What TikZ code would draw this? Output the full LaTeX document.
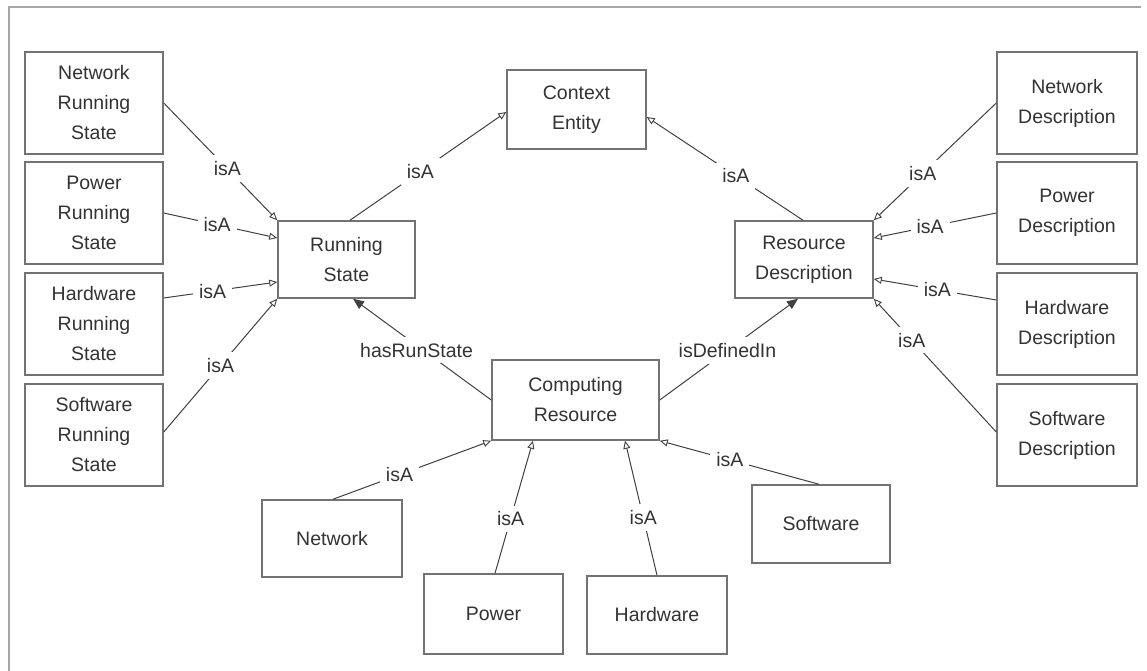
\documentclass[tikz,border=0pt]{standalone}
\usepackage{fontspec}
\setmainfont{Liberation Sans}
\usetikzlibrary{arrows.meta}
\tikzset{
  box/.style={draw=black!55, line width=1.5bp, fill=white, align=center,
    text=black!80, font=\fontsize{19.5bp}{30bp}\selectfont, inner sep=0pt},
  tall/.style={box, minimum width=138bp, minimum height=102bp},
  low/.style={box, minimum width=138bp, minimum height=78bp},
  rel/.style={draw=black!75, line width=1bp},
  isa/.style={rel, -{Triangle[open, length=8bp, width=7bp, line width=0.9bp]}},
  has/.style={rel, -{Triangle[length=11bp, width=9bp]}},
  lbl/.style={fill=white, text=black!80, inner sep=6bp,
    font=\fontsize{19.5bp}{24bp}\selectfont}
}
\begin{document}
\begin{tikzpicture}[x=1bp, y=-1bp]
\useasboundingbox (0,0) rectangle (1147,671);
% frame
\draw[black!35, line width=2bp] (9,671) -- (9,7) -- (1141,7);

% running states (left column)
\node[tall] (nrs) at (94,103) {Network\\Running\\State};
\node[tall] (prs) at (94,213) {Power\\Running\\State};
\node[tall] (hrs) at (94,324) {Hardware\\Running\\State};
\node[tall] (srs) at (94,435) {Software\\Running\\State};

% descriptions (right column)
\node[tall, minimum width=140bp] (nd) at (1067,103) {Network\\Description};
\node[tall, minimum width=140bp] (pd) at (1067,213) {Power\\Description};
\node[tall, minimum width=140bp] (hd) at (1067,324) {Hardware\\Description};
\node[tall, minimum width=140bp] (sd) at (1067,435) {Software\\Description};

% central concepts
\node[low, minimum width=137bp, minimum height=77bp] (rs) at (346.5,259.5) {Running\\State};
\node[low, minimum width=139bp, minimum height=79bp] (ce) at (576.5,109.5) {Context\\Entity};
\node[low, minimum height=77bp] (rd) at (804,259.5) {Resource\\Description};
\node[low, minimum width=167bp, minimum height=80bp] (cr) at (575.5,400) {Computing\\Resource};

% resource kinds (bottom)
\node[low, minimum width=140bp, minimum height=77bp] (net) at (332,538.5) {Network};
\node[low, minimum width=139bp, minimum height=80bp] (pow) at (493.5,614) {Power};
\node[low, minimum width=140bp] (hw) at (657,615) {Hardware};
\node[low] (sw) at (821,524) {Software};

% isA links to Running State
\draw[isa] (nrs.east) -- node[lbl, pos=0.56] {isA} (rs.north west);
\draw[isa] (prs.east) -- node[lbl, pos=0.47] {isA} ([yshift=21.5bp]rs.west);
\draw[isa] ([yshift=26bp]hrs.east) -- node[lbl, pos=0.43] {isA} ([yshift=-22.5bp]rs.west);
\draw[isa] ([yshift=3bp]srs.east) -- node[lbl, pos=0.5] {isA} (rs.south west);

% isA links to Context Entity
\draw[isa] ([xshift=3.5bp]rs.north) -- node[lbl, pos=0.45] {isA} ([yshift=-2.5bp]ce.west);
\draw[isa] ([xshift=-1bp]rd.north) -- node[lbl, pos=0.43] {isA} ([yshift=-7.5bp]ce.east);

% isA links to Resource Description
\draw[isa] (nd.west) -- node[lbl, pos=0.6] {isA} (rd.north east);
\draw[isa] (pd.west) -- node[lbl, pos=0.54] {isA} ([yshift=21.5bp]rd.east);
\draw[isa] ([yshift=24bp]hd.west) -- node[lbl, pos=0.48] {isA} ([yshift=-19.5bp]rd.east);
\draw[isa] ([yshift=3bp]sd.west) -- node[lbl, pos=0.69] {isA} (rd.south east);

% properties of Computing Resource
\draw[has] (cr.west) -- node[lbl, pos=0.54, yshift=-5bp] {hasRunState} ([xshift=6.5bp]rs.south);
\draw[has] (cr.east) -- node[lbl, pos=0.49] {isDefinedIn} ([xshift=-6bp]rd.south);

% isA links to Computing Resource
\draw[isa] ([xshift=1bp]net.north) -- node[lbl, pos=0.42] {isA} (cr.south west);
\draw[isa] ([xshift=1.5bp]pow.north) -- node[lbl, pos=0.41] {isA} ([xshift=-42.5bp]cr.south);
\draw[isa] (hw.north) -- node[lbl, pos=0.43] {isA} ([xshift=49.5bp]cr.south);
\draw[isa] ([xshift=-2bp]sw.north) -- node[lbl, pos=0.56] {isA} (cr.south east);
\end{tikzpicture}
\end{document}
